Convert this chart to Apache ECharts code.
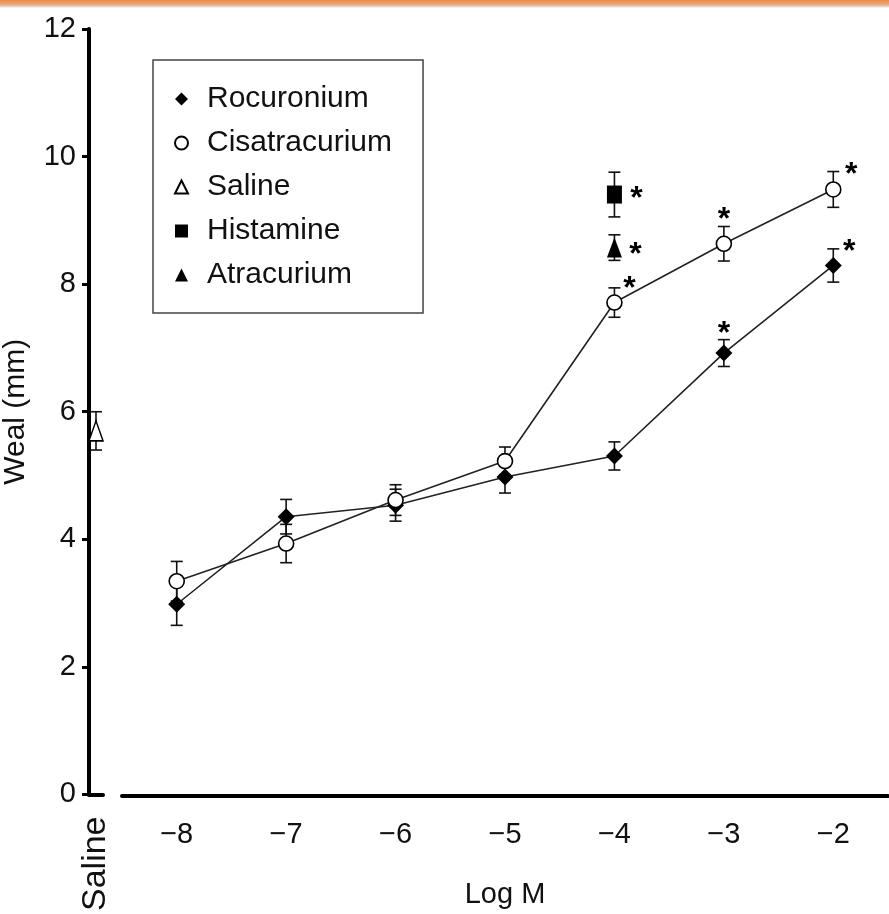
<!DOCTYPE html>
<html>
<head>
<meta charset="utf-8">
<script src="https://cdn.jsdelivr.net/npm/echarts@6/dist/echarts.min.js"></script>
<style>
  html, body { margin: 0; padding: 0; background: #fff; }
  #chart { width: 889px; height: 914px; }
</style>
</head>
<body>
<div id="chart"></div>
<script>
// categories (log molar concentration)
var logM = ['\u22128', '\u22127', '\u22126', '\u22125', '\u22124', '\u22123', '\u22122'];
var yTicks = [0, 2, 4, 6, 8, 10, 12];

// weal diameter, mean and SEM (mm)
var rocMean = [3.0, 4.37, 4.55, 4.99, 5.32, 6.93, 8.3];
var rocSem = [0.33, 0.27, 0.25, 0.25, 0.22, 0.21, 0.26];
var rocSig = [false, false, false, false, false, true, true];

var cisMean = [3.36, 3.95, 4.63, 5.24, 7.72, 8.64, 9.49];
var cisSem = [0.31, 0.3, 0.24, 0.22, 0.23, 0.27, 0.28];
var cisSig = [false, false, false, false, true, true, true];

var salineMean = [5.7];
var salineSem = [0.3];

var histCat = ['\u22124'];
var histMean = [9.41];
var histSem = [0.35];

var atraCat = ['\u22124'];
var atraMean = [8.58];
var atraSem = [0.2];

var FONT = 'Liberation Sans, Arial, sans-serif';
var INK = '#111';

// where the significance star sits relative to its point
var starOffset = {
  cis: { 4: [15, -13], 5: [0, -24], 6: [18, -14] },
  roc: { 5: [0, -19], 6: [16, -13] },
  hist: [22, 5],
  atra: [21, 8]
};

function star(off) {
  return {
    show: true, formatter: '*', position: 'inside', offset: off,
    color: '#000', fontSize: 32, fontWeight: 'bold', fontFamily: FONT
  };
}

function pointData(cats, means, sig, offs) {
  return means.map(function (v, i) {
    var item = { value: [cats[i], v] };
    if (sig && sig[i]) item.label = star(offs[i]);
    return item;
  });
}

function barData(cats, means, sems) {
  return means.map(function (v, i) {
    return [cats[i], v - sems[i], v + sems[i]];
  });
}

function errorBar(params, api) {
  var x = api.value(0);
  var lo = api.coord([x, api.value(1)]);
  var hi = api.coord([x, api.value(2)]);
  var w = 6;
  var st = { stroke: INK, lineWidth: 1.6 };
  return {
    type: 'group',
    children: [
      { type: 'line', shape: { x1: lo[0], y1: lo[1], x2: hi[0], y2: hi[1] }, style: st },
      { type: 'line', shape: { x1: lo[0] - w, y1: lo[1], x2: lo[0] + w, y2: lo[1] }, style: st },
      { type: 'line', shape: { x1: hi[0] - w, y1: hi[1], x2: hi[0] + w, y2: hi[1] }, style: st }
    ]
  };
}

var chart = echarts.init(document.getElementById('chart'));

var yAxisCommon = {
  type: 'value', min: 0, max: 12, interval: 2,
  splitLine: { show: false }
};

var option = {
  animation: false,
  backgroundColor: '#fff',
  textStyle: { fontFamily: FONT, color: INK },
  graphic: [{
    type: 'rect', left: 0, top: 0, z: 100,
    shape: { width: 889, height: 9 },
    style: {
      fill: new echarts.graphic.LinearGradient(0, 0, 0, 1, [
        { offset: 0, color: '#e98c48' },
        { offset: 0.45, color: '#f0a46e' },
        { offset: 0.7, color: '#d9cfc8' },
        { offset: 1, color: 'rgba(255,255,255,0)' }
      ])
    }
  }],
  legend: {
    orient: 'vertical',
    left: 153, top: 60,
    padding: [24, 31, 23, 21],
    borderColor: '#444', borderWidth: 1.5,
    itemWidth: 13, itemHeight: 13, itemGap: 14,
    textStyle: { fontSize: 30, fontFamily: FONT, color: INK, lineHeight: 30, padding: [0, 0, 0, 14] },
    data: [
      { name: 'Rocuronium', icon: 'diamond' },
      { name: 'Cisatracurium', icon: 'circle' },
      { name: 'Saline', icon: 'triangle' },
      { name: 'Histamine', icon: 'rect' },
      { name: 'Atracurium', icon: 'triangle' }
    ]
  },
  grid: [
    { left: 84, top: 29, width: 19, height: 767 },
    { left: 122, top: 29, width: 766, height: 767 }
  ],
  xAxis: [{
    gridIndex: 0, type: 'category', data: ['Saline'],
    axisLine: { lineStyle: { color: '#000', width: 4 } },
    axisTick: { length: 10, lineStyle: { color: '#000', width: 3 } },
    axisLabel: { rotate: 90, margin: 22, fontSize: 34, color: INK, fontFamily: FONT }
  }, {
    gridIndex: 1, type: 'category', data: logM,
    axisLine: { lineStyle: { color: '#000', width: 4 } },
    axisTick: { length: 10, lineStyle: { color: '#000', width: 3 } },
    axisLabel: { margin: 24, fontSize: 29, color: INK, fontFamily: FONT },
    name: 'Log M', nameLocation: 'middle', nameGap: 84,
    nameTextStyle: { fontSize: 29, color: INK, fontFamily: FONT }
  }],
  yAxis: [Object.assign({}, yAxisCommon, {
    gridIndex: 0,
    axisLine: { show: true, lineStyle: { color: '#000', width: 4 } },
    axisTick: { show: true, length: 7, lineStyle: { color: '#000', width: 3 } },
    axisLabel: {
      margin: 13, fontSize: 29, color: INK, fontFamily: FONT,
      formatter: function (v) { return yTicks.indexOf(v) >= 0 ? String(v) : ''; }
    },
    name: 'Weal (mm)', nameLocation: 'middle', nameGap: 58,
    nameTextStyle: { fontSize: 30, color: INK, fontFamily: FONT }
  }), Object.assign({}, yAxisCommon, {
    gridIndex: 1, show: false
  })],
  series: [
    { type: 'custom', name: 'errSaline', xAxisIndex: 0, yAxisIndex: 0, z: 1,
      renderItem: errorBar, data: barData(['Saline'], salineMean, salineSem) },
    { type: 'custom', name: 'errRoc', xAxisIndex: 1, yAxisIndex: 1, z: 1,
      renderItem: errorBar, data: barData(logM, rocMean, rocSem) },
    { type: 'custom', name: 'errCis', xAxisIndex: 1, yAxisIndex: 1, z: 1,
      renderItem: errorBar, data: barData(logM, cisMean, cisSem) },
    { type: 'custom', name: 'errHist', xAxisIndex: 1, yAxisIndex: 1, z: 1,
      renderItem: errorBar, data: barData(histCat, histMean, histSem) },
    { type: 'custom', name: 'errAtra', xAxisIndex: 1, yAxisIndex: 1, z: 1,
      renderItem: errorBar, data: barData(atraCat, atraMean, atraSem) },
    {
      type: 'line', name: 'Rocuronium', xAxisIndex: 1, yAxisIndex: 1, z: 3,
      symbol: 'diamond', symbolSize: 17, showAllSymbol: true,
      itemStyle: { color: '#000' },
      lineStyle: { color: '#222', width: 1.6 },
      data: pointData(logM, rocMean, rocSig, starOffset.roc)
    },
    {
      type: 'line', name: 'Cisatracurium', xAxisIndex: 1, yAxisIndex: 1, z: 3,
      symbol: 'circle', symbolSize: 15, showAllSymbol: true,
      itemStyle: { color: '#fff', borderColor: '#000', borderWidth: 1.6 },
      lineStyle: { color: '#222', width: 1.6 },
      data: pointData(logM, cisMean, cisSig, starOffset.cis)
    },
    {
      type: 'scatter', name: 'Saline', xAxisIndex: 0, yAxisIndex: 0, z: 3,
      symbol: 'triangle', symbolSize: [14, 20],
      itemStyle: { color: '#fff', borderColor: '#000', borderWidth: 1.6, opacity: 1 },
      data: pointData(['Saline'], salineMean)
    },
    {
      type: 'scatter', name: 'Histamine', xAxisIndex: 1, yAxisIndex: 1, z: 3,
      symbol: 'rect', symbolSize: [15, 18],
      itemStyle: { color: '#000', opacity: 1 },
      data: pointData(histCat, histMean, [true], [starOffset.hist])
    },
    {
      type: 'scatter', name: 'Atracurium', xAxisIndex: 1, yAxisIndex: 1, z: 3,
      symbol: 'triangle', symbolSize: [15, 20],
      itemStyle: { color: '#000', opacity: 1 },
      data: pointData(atraCat, atraMean, [true], [starOffset.atra])
    }
  ]
};

chart.setOption(option);
</script>
</body>
</html>
